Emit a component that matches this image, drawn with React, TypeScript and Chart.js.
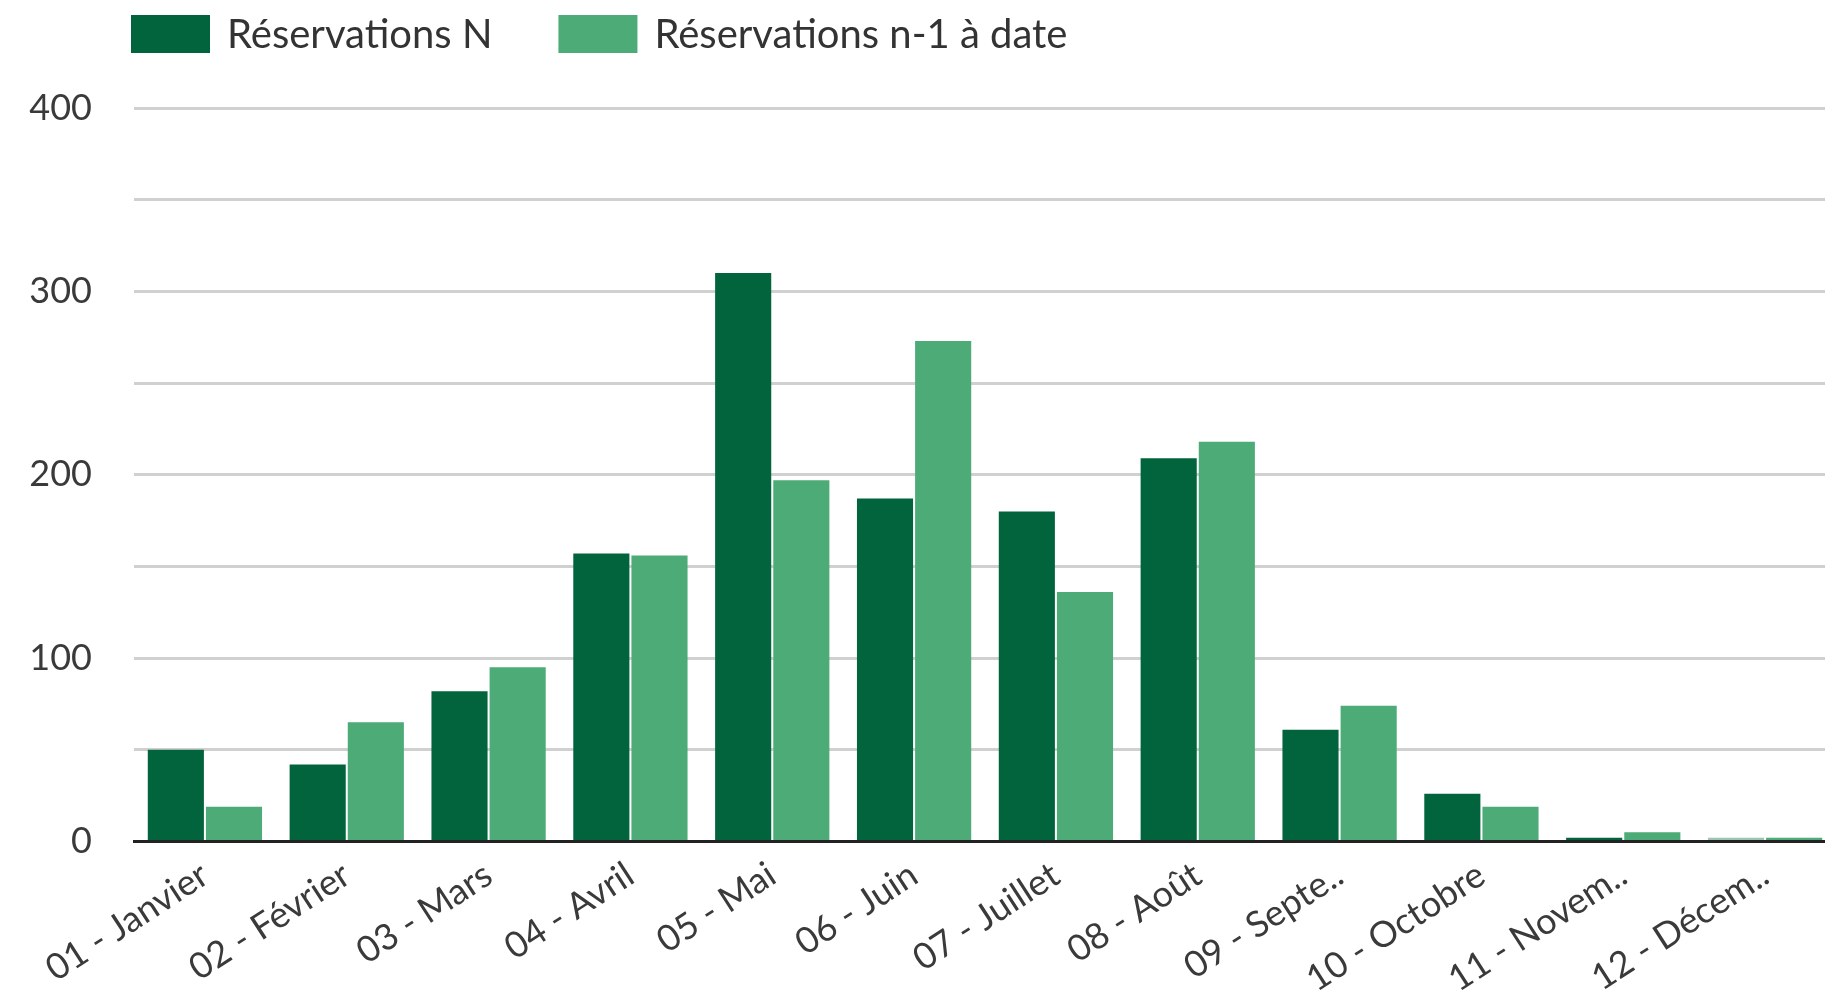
import React, { useEffect, useRef } from "react";
import { Chart, registerables } from "chart.js";

Chart.register(...registerables);

const months = [
  "01 - Janvier",
  "02 - Février",
  "03 - Mars",
  "04 - Avril",
  "05 - Mai",
  "06 - Juin",
  "07 - Juillet",
  "08 - Août",
  "09 - Septe..",
  "10 - Octobre",
  "11 - Novem..",
  "12 - Décem..",
];
const seriesLabels = ["Réservations N", "Réservations n-1 à date"];
const reservationsN = [50, 42, 82, 157, 310, 187, 180, 209, 61, 26, 2, 2];
const reservationsN1 = [19, 65, 95, 156, 197, 273, 136, 218, 74, 19, 5, 2];
const yTickLabels = [0, 100, 200, 300, 400];

const colorN = "#02643d";
const colorNFaded = "#9dc4b1";
const colorN1 = "#4cab77";
const FONT = "Lato";

const legendPlugin = {
  id: "customLegend",
  afterDraw(chart: any) {
    const ctx = chart.ctx;
    ctx.save();
    ctx.font = `40px ${FONT}`;
    ctx.textBaseline = "middle";
    ctx.textAlign = "left";
    let x = 131;
    const colors = [colorN, colorN1];
    chart.data.datasets.forEach((ds: any, i: number) => {
      ctx.fillStyle = colors[i];
      ctx.fillRect(x, 15, 79, 38);
      ctx.fillStyle = "#333333";
      const tx = x + 79 + 17;
      ctx.fillText(ds.label, tx, 35);
      x = tx + ctx.measureText(ds.label).width + 66;
    });
    ctx.restore();
  },
};

export default function App() {
  const ref = useRef<HTMLCanvasElement>(null);
  useEffect(() => {
    if (!ref.current) return;
    const chart = new Chart(ref.current, {
      type: "bar",
      data: {
        labels: months,
        datasets: [
          {
            label: seriesLabels[0],
            data: reservationsN,
            backgroundColor: reservationsN.map((_, i) => (i === reservationsN.length - 1 ? colorNFaded : colorN)),
            barPercentage: 0.965,
            categoryPercentage: 0.82,
          },
          {
            label: seriesLabels[1],
            data: reservationsN1,
            backgroundColor: colorN1,
            barPercentage: 0.965,
            categoryPercentage: 0.82,
          },
        ],
      },
      options: {
        animation: false,
        responsive: true,
        maintainAspectRatio: false,
        layout: { padding: { top: 108, left: 0, right: 0, bottom: 0 } },
        plugins: {
          legend: { display: false },
          tooltip: { enabled: false },
        },
        scales: {
          x: {
            grid: { display: false },
            border: { display: true, color: "#222222", width: 3 },
            ticks: {
              color: "#3a3a3a",
              font: { family: FONT, size: 36 },
              minRotation: 33,
              maxRotation: 33,
              autoSkip: false,
              padding: 4,
            },
            afterFit: (s: any) => {
              s.height = 153.5;
            },
          },
          y: {
            min: 0,
            max: 400,
            border: { display: false },
            grid: {
              color: (c: any) => (c.tick && c.tick.value === 0 ? "#222222" : "#d0d0d0"),
              lineWidth: 3,
              drawTicks: false,
            },
            ticks: {
              stepSize: 50,
              autoSkip: false,
              color: "#3a3a3a",
              font: { family: FONT, size: 36 },
              padding: 42,
              callback: (v: any) => (yTickLabels.includes(Number(v)) ? String(v) : ""),
            },
            afterFit: (s: any) => {
              s.width = 134;
            },
          },
        },
      },
      plugins: [legendPlugin],
    });
    return () => chart.destroy();
  }, []);

  return (
    <div style={{ position: "absolute", left: 0, top: 0, width: 1825, height: 995, overflow: "hidden", background: "#fff" }}>
      <div style={{ position: "relative", width: 1836, height: 995 }}>
        <canvas ref={ref} />
      </div>
    </div>
  );
}
